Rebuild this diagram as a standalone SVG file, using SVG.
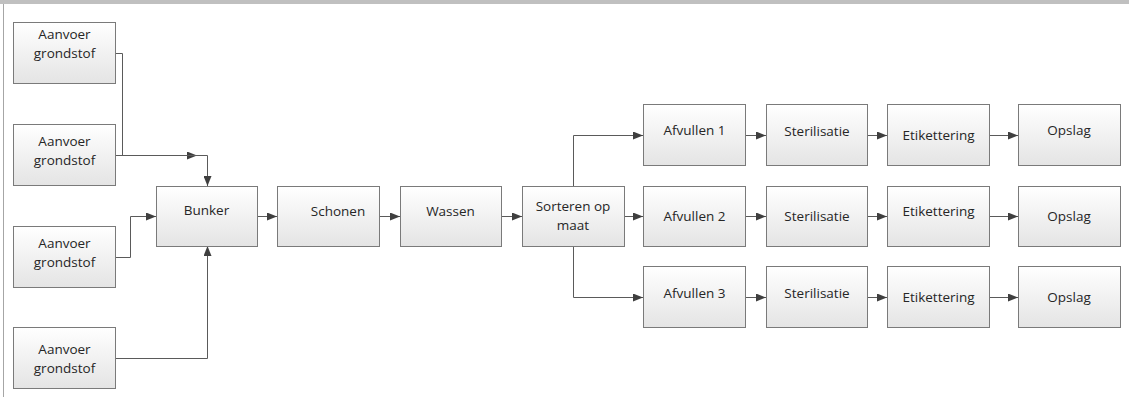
<svg xmlns="http://www.w3.org/2000/svg" width="1129" height="405" viewBox="0 0 1129 405">
  <style>
    .box { fill: url(#boxFill); stroke: #7a7a7a; stroke-width: 1; }
    .lbl { font-family: "Open Sans", "Liberation Sans", sans-serif; font-size: 13.5px; fill: #262626; text-anchor: middle; }
    .conn { fill: none; stroke: #5a5a5a; stroke-width: 1; marker-end: url(#arrow); }
    .plain { fill: none; stroke: #5a5a5a; stroke-width: 1; }
  </style>
  <defs>
    <linearGradient id="boxFill" x1="0" y1="0" x2="0" y2="1">
      <stop offset="0" stop-color="#ffffff"/>
      <stop offset="1" stop-color="#e4e4e4"/>
    </linearGradient>
    <marker id="arrow" viewBox="0 0 10 8" refX="10" refY="4" markerWidth="10" markerHeight="8" markerUnits="userSpaceOnUse" orient="auto">
      <path d="M0,0 L10,4 L0,8 Z" fill="#3f3f3f"/>
    </marker>
  </defs>

  <!-- page frame -->
  <rect x="0" y="0" width="1129" height="4" fill="#c0c0c0"/>
  <line x1="3.5" y1="4" x2="3.5" y2="397" stroke="#a6a6a6" stroke-width="1"/>

  <!-- connectors -->
  <g id="connectors">
    <path class="conn" d="M115,53.5 H122.5 V155.5 H197"/>
    <path class="conn" d="M115,155.5 H207.5 V186"/>
    <path class="conn" d="M115,257.5 H130.5 V216.5 H156"/>
    <path class="conn" d="M115,358.5 H207.5 V246"/>
    <path class="conn" d="M257,216.5 H277"/>
    <path class="conn" d="M379,216.5 H400"/>
    <path class="conn" d="M501,216.5 H522"/>
    <path class="conn" d="M573.5,186 V135.5 H643"/>
    <path class="conn" d="M624,216.5 H643"/>
    <path class="conn" d="M573.5,246 V297.5 H643"/>
    <path class="conn" d="M746,135.5 H766"/>
    <path class="conn" d="M746,216.5 H766"/>
    <path class="conn" d="M746,297.5 H766"/>
    <path class="conn" d="M868,135.5 H887"/>
    <path class="conn" d="M868,216.5 H887"/>
    <path class="conn" d="M868,297.5 H887"/>
    <path class="conn" d="M990,135.5 H1018"/>
    <path class="conn" d="M990,216.5 H1018"/>
    <path class="conn" d="M990,297.5 H1018"/>
  </g>

  <!-- supply nodes -->
  <g id="aanvoer1">
    <rect class="box" x="13.5" y="22.5" width="102" height="61"/>
    <text class="lbl" x="64.5" y="39">Aanvoer</text>
    <text class="lbl" x="64.5" y="58">grondstof</text>
  </g>
  <g id="aanvoer2">
    <rect class="box" x="13.5" y="124.5" width="102" height="61"/>
    <text class="lbl" x="64.5" y="146">Aanvoer</text>
    <text class="lbl" x="64.5" y="165">grondstof</text>
  </g>
  <g id="aanvoer3">
    <rect class="box" x="13.5" y="226.5" width="102" height="61"/>
    <text class="lbl" x="64.5" y="247.5">Aanvoer</text>
    <text class="lbl" x="64.5" y="266.5">grondstof</text>
  </g>
  <g id="aanvoer4">
    <rect class="box" x="13.5" y="327.5" width="102" height="61"/>
    <text class="lbl" x="64.5" y="353.5">Aanvoer</text>
    <text class="lbl" x="64.5" y="372.5">grondstof</text>
  </g>

  <!-- main line -->
  <g id="bunker">
    <rect class="box" x="156.5" y="186.5" width="101" height="60"/>
    <text class="lbl" x="206.5" y="215">Bunker</text>
  </g>
  <g id="schonen">
    <rect class="box" x="277.5" y="186.5" width="102" height="60"/>
    <text class="lbl" x="338" y="216">Schonen</text>
  </g>
  <g id="wassen">
    <rect class="box" x="400.5" y="186.5" width="101" height="60"/>
    <text class="lbl" x="450.5" y="216">Wassen</text>
  </g>
  <g id="sorteren">
    <rect class="box" x="522.5" y="186.5" width="102" height="60"/>
    <text class="lbl" x="573" y="211">Sorteren op</text>
    <text class="lbl" x="573" y="230">maat</text>
  </g>

  <!-- line 1 -->
  <g id="afvullen1">
    <rect class="box" x="643.5" y="104.5" width="102" height="61"/>
    <text class="lbl" x="694.5" y="135">Afvullen 1</text>
  </g>
  <g id="sterilisatie1">
    <rect class="box" x="766.5" y="104.5" width="101" height="61"/>
    <text class="lbl" x="817" y="136">Sterilisatie</text>
  </g>
  <g id="etikettering1">
    <rect class="box" x="887.5" y="104.5" width="102" height="61"/>
    <text class="lbl" x="938.5" y="139.5">Etikettering</text>
  </g>
  <g id="opslag1">
    <rect class="box" x="1018.5" y="104.5" width="102" height="61"/>
    <text class="lbl" x="1069" y="135">Opslag</text>
  </g>

  <!-- line 2 -->
  <g id="afvullen2">
    <rect class="box" x="643.5" y="186.5" width="102" height="60"/>
    <text class="lbl" x="694.5" y="220.5">Afvullen 2</text>
  </g>
  <g id="sterilisatie2">
    <rect class="box" x="766.5" y="186.5" width="101" height="60"/>
    <text class="lbl" x="817" y="220.5">Sterilisatie</text>
  </g>
  <g id="etikettering2">
    <rect class="box" x="887.5" y="186.5" width="102" height="60"/>
    <text class="lbl" x="938.5" y="215.5">Etikettering</text>
  </g>
  <g id="opslag2">
    <rect class="box" x="1018.5" y="186.5" width="102" height="60"/>
    <text class="lbl" x="1069" y="220.5">Opslag</text>
  </g>

  <!-- line 3 -->
  <g id="afvullen3">
    <rect class="box" x="643.5" y="266.5" width="102" height="61"/>
    <text class="lbl" x="694.5" y="297.5">Afvullen 3</text>
  </g>
  <g id="sterilisatie3">
    <rect class="box" x="766.5" y="266.5" width="101" height="61"/>
    <text class="lbl" x="817" y="297.5">Sterilisatie</text>
  </g>
  <g id="etikettering3">
    <rect class="box" x="887.5" y="266.5" width="102" height="61"/>
    <text class="lbl" x="938.5" y="302">Etikettering</text>
  </g>
  <g id="opslag3">
    <rect class="box" x="1018.5" y="266.5" width="102" height="61"/>
    <text class="lbl" x="1069" y="302">Opslag</text>
  </g>
</svg>
